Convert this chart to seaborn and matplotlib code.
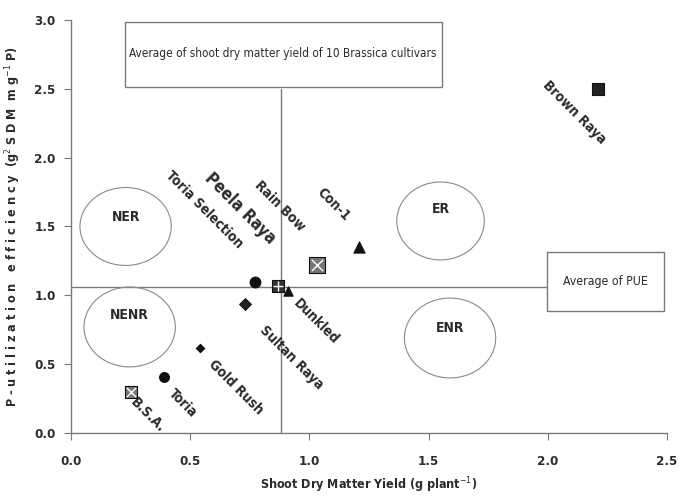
import matplotlib
matplotlib.use("Agg")
import matplotlib.pyplot as plt
from matplotlib.patches import Ellipse, Rectangle
import seaborn as sns
import pandas as pd

# ---- data ----
cultivars = ["Brown Raya", "Con-1", "Rain Bow", "Peela Raya", "Toria Selection",
             "Dunkled", "Sultan Raya", "Gold Rush", "Toria", "B.S.A."]
sdm_yield = [2.21, 1.21, 1.03, 0.77, 0.87, 0.91, 0.73, 0.54, 0.39, 0.25]
pue = [2.50, 1.35, 1.22, 1.10, 1.07, 1.03, 0.94, 0.62, 0.41, 0.30]
marker_kind = ["s", "^", "s", "o", "s", "^", "D", "D", "o", "s"]
overlay_kind = ["", "", "x", "", "+", "", "", "", "", "x"]
marker_size = [70, 65, 120, 60, 80, 45, 35, 18, 50, 80]
marker_face = ["#222222", "#111111", "#777777", "#111111", "#333333",
               "#111111", "#222222", "#111111", "#111111", "#777777"]

# label positions (text centres) and font sizes
label_x = [2.11, 1.10, 0.875, 0.71, 0.56, 1.03, 0.925, 0.69, 0.47, 0.32]
label_y = [2.33, 1.66, 1.65, 1.63, 1.62, 0.81, 0.545, 0.33, 0.22, 0.13]
label_fs = [10, 10, 10, 12, 10, 10, 10, 10, 10, 10]

avg_yield = 0.88
avg_pue = 1.06

regions = ["NER", "NENR", "ER", "ENR"]
region_cx = [0.229, 0.246, 1.55, 1.59]
region_cy = [1.50, 0.77, 1.54, 0.69]
region_w = [0.383, 0.383, 0.367, 0.383]
region_h = [0.566, 0.58, 0.566, 0.58]
region_lx = [0.229, 0.246, 1.55, 1.59]
region_ly = [1.57, 0.86, 1.63, 0.76]

x_ticks = [0.0, 0.5, 1.0, 1.5, 2.0, 2.5]
y_ticks = [0.0, 0.5, 1.0, 1.5, 2.0, 2.5, 3.0]

df = pd.DataFrame({"cultivar": cultivars, "x": sdm_yield, "y": pue})

# ---- style ----
sns.set_style("ticks")
plt.rcParams["font.family"] = ["DejaVu Sans"]
plt.rcParams["font.stretch"] = "condensed"

fig = plt.figure(figsize=(6.79, 4.97), dpi=100)
ax = fig.add_axes([0.1046, 0.1288, 0.8777, 0.831])

TXT = "#2b2b2b"
LINE = "#7a7a7a"

# average lines
ax.plot([avg_yield, avg_yield], [0, 2.5], color=LINE, lw=1.0, zorder=1)
ax.plot([0, 2.0], [avg_pue, avg_pue], color=LINE, lw=1.0, zorder=1)

# boxes
ax.add_patch(Rectangle((0.225, 2.513), 1.333, 0.472, facecolor="none", edgecolor=LINE,
                       lw=1.0, clip_on=False))
ax.text(0.89, 2.76, "Average of shoot dry matter yield of 10 Brassica cultivars",
        ha="center", va="center", fontsize=8.5, color=TXT, fontstretch="condensed")
ax.add_patch(Rectangle((1.996, 0.886), 0.492, 0.428, facecolor="white", edgecolor=LINE,
                       lw=1.0, clip_on=False))
ax.text(2.24, 1.10, "Average of PUE", ha="center", va="center", fontsize=8.8, color=TXT,
        fontstretch="condensed")

# region ellipses
for name, cx, cy, w, h, lx, ly in zip(regions, region_cx, region_cy, region_w, region_h,
                                      region_lx, region_ly):
    ax.add_patch(Ellipse((cx, cy), w, h, fill=False, ec="#8a8a8a", lw=0.8))
    ax.text(lx, ly, name, ha="center", va="center", fontsize=10, fontweight="bold",
            color=TXT, fontstretch="condensed")

# points
for i, c in enumerate(cultivars):
    sub = df[df["cultivar"] == c]
    sns.scatterplot(data=sub, x="x", y="y", marker=marker_kind[i], s=marker_size[i],
                    color=marker_face[i], edgecolor="#111111", linewidth=0.8,
                    ax=ax, legend=False, zorder=3)
    if overlay_kind[i]:
        sns.scatterplot(data=sub, x="x", y="y", marker=overlay_kind[i],
                        s=marker_size[i] * 0.55, color="white", linewidth=1.0,
                        ax=ax, legend=False, zorder=4)

# labels
for c, lx, ly, fs in zip(cultivars, label_x, label_y, label_fs):
    ax.text(lx, ly, c, rotation=-45, ha="center", va="center", rotation_mode="anchor",
            fontsize=fs, fontweight="bold", color=TXT, fontstretch="condensed")

ax.set_xlim(0, 2.5)
ax.set_ylim(0, 3.0)
ax.set_xticks(x_ticks)
ax.set_yticks(y_ticks)
ax.set_xticklabels([f"{v:.1f}" for v in x_ticks], fontweight="bold", fontsize=9.5, color=TXT)
ax.set_yticklabels([f"{v:.1f}" for v in y_ticks], fontweight="bold", fontsize=9.5, color=TXT)
ax.tick_params(axis="x", direction="out", length=5, color=LINE, pad=11)
ax.tick_params(axis="y", direction="out", length=5, color=LINE, pad=6)
for s in ["top", "right"]:
    ax.spines[s].set_visible(False)
for s in ["left", "bottom"]:
    ax.spines[s].set_color(LINE)
    ax.spines[s].set_linewidth(1.0)

ax.set_xlabel(r"Shoot Dry Matter Yield (g plant$^{-1}$)", fontweight="bold", fontsize=9,
              color=TXT, labelpad=5)
ax.set_ylabel(r"P - u t i l i z a t i o n   e f f i c i e n c y  (g$^{2}$ S D M  m g$^{-1}$ P)",
              fontweight="bold", fontsize=9, color=TXT, labelpad=8)

fig.savefig("out.png", dpi=100)
